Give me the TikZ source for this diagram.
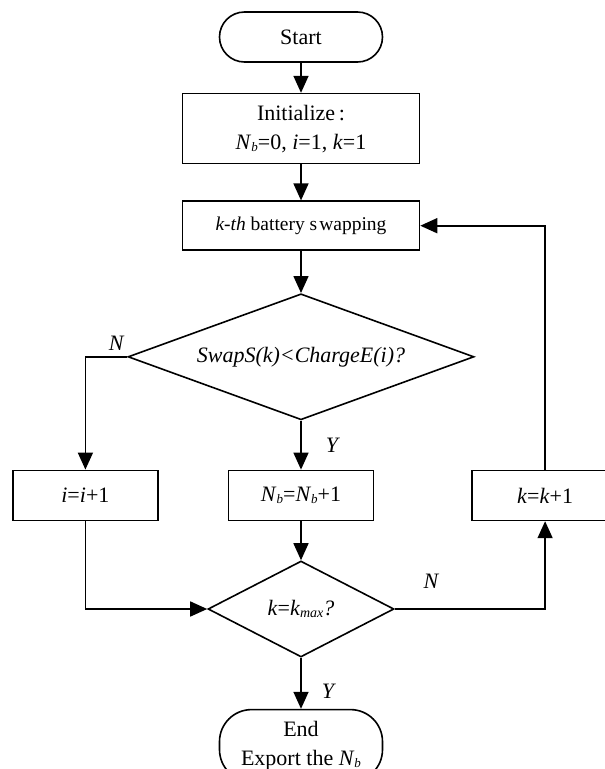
\documentclass[tikz,border=0pt]{standalone}
\usepackage{fontspec}
\setmainfont{Liberation Serif}
\usetikzlibrary{arrows.meta,positioning,shapes.geometric}
\newcommand{\Nb}{\textit{N}\raisebox{-0.2ex}{\fontsize{13}{13}\selectfont\textit{b}}}
\newcommand{\kmax}{\textit{k}\raisebox{-0.2ex}{\fontsize{14}{14}\selectfont\textit{max}}}

\begin{document}
\begin{tikzpicture}[x=1pt, y=1pt, line width=1.6pt,
  >={Triangle[length=17pt,width=15pt]},
  box/.style={draw, align=center, font=\fontsize{22}{29}\selectfont, inner sep=2pt},
  term/.style={draw, rounded corners=25pt, align=center, font=\fontsize{22}{29}\selectfont,
               minimum width=163pt},
  dec/.style={draw, diamond, inner sep=0pt, font=\fontsize{22}{26}\selectfont},
  lbl/.style={font=\fontsize{22}{26}\selectfont\itshape, inner sep=0pt}]
\useasboundingbox (0,0) rectangle (605,-769);
\node[term, minimum height=50pt] (start) at (301,-37) {Start};
\node[box, below=30pt of start, minimum width=237pt, minimum height=70pt] (init) {Initialize\,:\\ \Nb=0, \textit{i}=1, \textit{k}=1};
\node[box, below=36pt of init, minimum width=237pt, minimum height=49pt,
      font=\fontsize{19.5}{24}\selectfont] (swap) {\textit{k-th} battery s\kern2pt wapping};
\node[dec, below=42pt of swap, minimum width=346pt, minimum height=126pt, aspect=2.75] (cmp) {\textit{SwapS(k)<ChargeE(i)?}};
\node[box, below=49pt of cmp, minimum width=145pt, minimum height=50pt] (nb) {\Nb=\Nb+1};
\node[box, left=69pt of nb, minimum width=145pt, minimum height=50pt] (inc) {\textit{i}=\textit{i}+1};
\node[box, right=97pt of nb, minimum width=146pt, minimum height=50pt] (kinc) {\textit{k}=\textit{k}+1};
\node[dec, below=39pt of nb, minimum width=186pt, minimum height=96pt, aspect=1.94] (last) {\textit{k}=\kmax\textit{?}};
\node[term, below=51pt of last, minimum height=72pt, rounded corners=32pt] (end) {End\\ Export the \Nb};
\draw[->] (start) -- (init);
\draw[->] (init) -- (swap);
\draw[->] (swap) -- (cmp);
\draw[->] (cmp) -- node[lbl, right=24pt] {Y} (nb);
\draw[->] (cmp.west) -| node[lbl, above=6pt, pos=0.13] {N} (inc);
\draw[->] (nb) -- (last);
\draw[->] (inc) |- (last.west);
\draw[->] (last.east) -| node[lbl, above=20pt, pos=0.12] {N} (kinc);
\draw[->] (kinc) |- (swap.east);
\draw[->] (last) -- node[lbl, right=20pt, pos=0.65] {Y} (end);
\end{tikzpicture}
\end{document}
